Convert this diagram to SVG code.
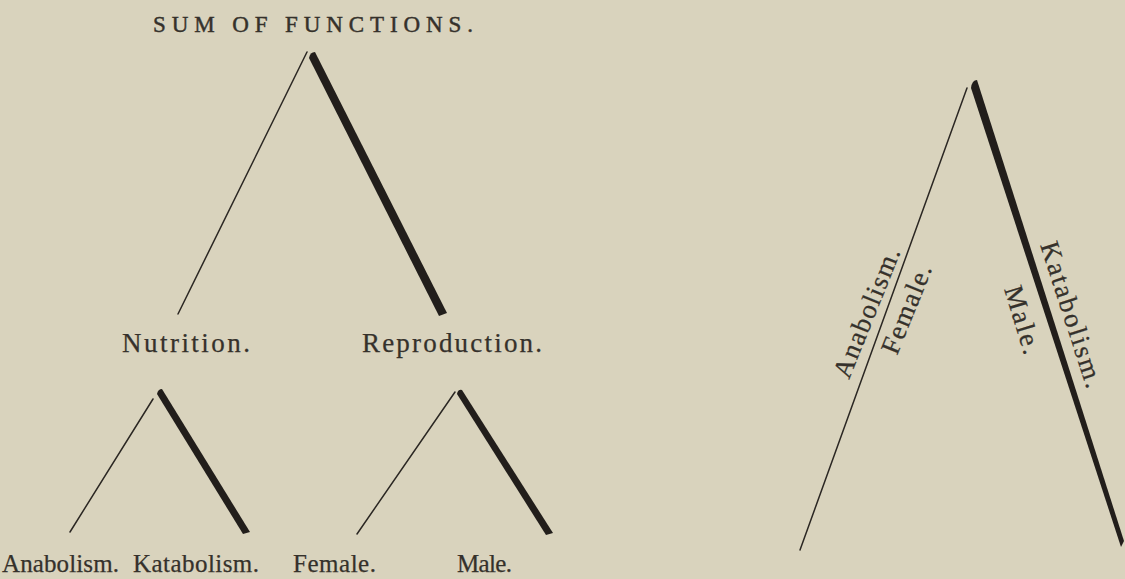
<svg xmlns="http://www.w3.org/2000/svg" width="1125" height="579" viewBox="0 0 1125 579">
<style>
.bg{fill:#d9d3bd}
.thin{stroke:#2b2723;stroke-width:1.5;fill:none;stroke-linecap:round}
.thick{fill:#221e1b;stroke:none}
.lbl{font-family:"Liberation Serif",serif;fill:#35312b;font-size:27px;stroke:#35312b;stroke-width:0.25}
.bot{font-family:"Liberation Serif",serif;fill:#35312b;font-size:25px;stroke:#35312b;stroke-width:0.25}
.ttl{font-family:"Liberation Serif",serif;fill:#35312b;font-size:23px;stroke:#35312b;stroke-width:0.45}
</style>
<rect class="bg" x="0" y="0" width="1125" height="579"/>
<g id="connectors">
  <line class="thin" x1="178" y1="314" x2="307" y2="52"/>
  <path class="thick" d="M309,58 Q310,52 315,52 L447,313 L439,316 Z"/>
  <line class="thin" x1="70" y1="532" x2="153" y2="399"/>
  <path class="thick" d="M157,394 Q158,389 162,389 L250,532 L243,534 Z"/>
  <line class="thin" x1="357" y1="534" x2="455" y2="392"/>
  <path class="thick" d="M457,394 Q458,389 462,390 L553,533 L546,535 Z"/>
  <line class="thin" x1="800" y1="550" x2="967" y2="88"/>
  <path class="thick" d="M971,88 Q972,80 977,80 L1124,541 L1121,547 Z"/>
</g>
<g id="title"><text class="ttl" x="153" y="32" textLength="320" lengthAdjust="spacing">SUM OF FUNCTIONS.</text></g>
<g id="nutrition"><text class="lbl" x="122" y="352" textLength="128" lengthAdjust="spacing">Nutrition.</text></g>
<g id="reproduction"><text class="lbl" x="362" y="352" textLength="180" lengthAdjust="spacing">Reproduction.</text></g>
<g id="anabolism"><text class="bot" x="2" y="572" textLength="117" lengthAdjust="spacing">Anabolism.</text></g>
<g id="katabolism"><text class="bot" x="133" y="572" textLength="126" lengthAdjust="spacing">Katabolism.</text></g>
<g id="female"><text class="bot" x="293" y="572" textLength="83" lengthAdjust="spacing">Female.</text></g>
<g id="male"><text class="bot" x="457" y="572" textLength="55" lengthAdjust="spacing">Male.</text></g>
<g id="anabolism-r"><text class="lbl" transform="translate(849,380) rotate(-68)" textLength="138" lengthAdjust="spacing">Anabolism.</text></g>
<g id="female-r"><text class="lbl" transform="translate(897,356) rotate(-68)" textLength="94" lengthAdjust="spacing">Female.</text></g>
<g id="katabolism-r"><text class="lbl" transform="translate(1040,245) rotate(72)" textLength="152" lengthAdjust="spacing">Katabolism.</text></g>
<g id="male-r"><text class="lbl" transform="translate(1004,289) rotate(73)" textLength="70" lengthAdjust="spacing">Male.</text></g>
</svg>
